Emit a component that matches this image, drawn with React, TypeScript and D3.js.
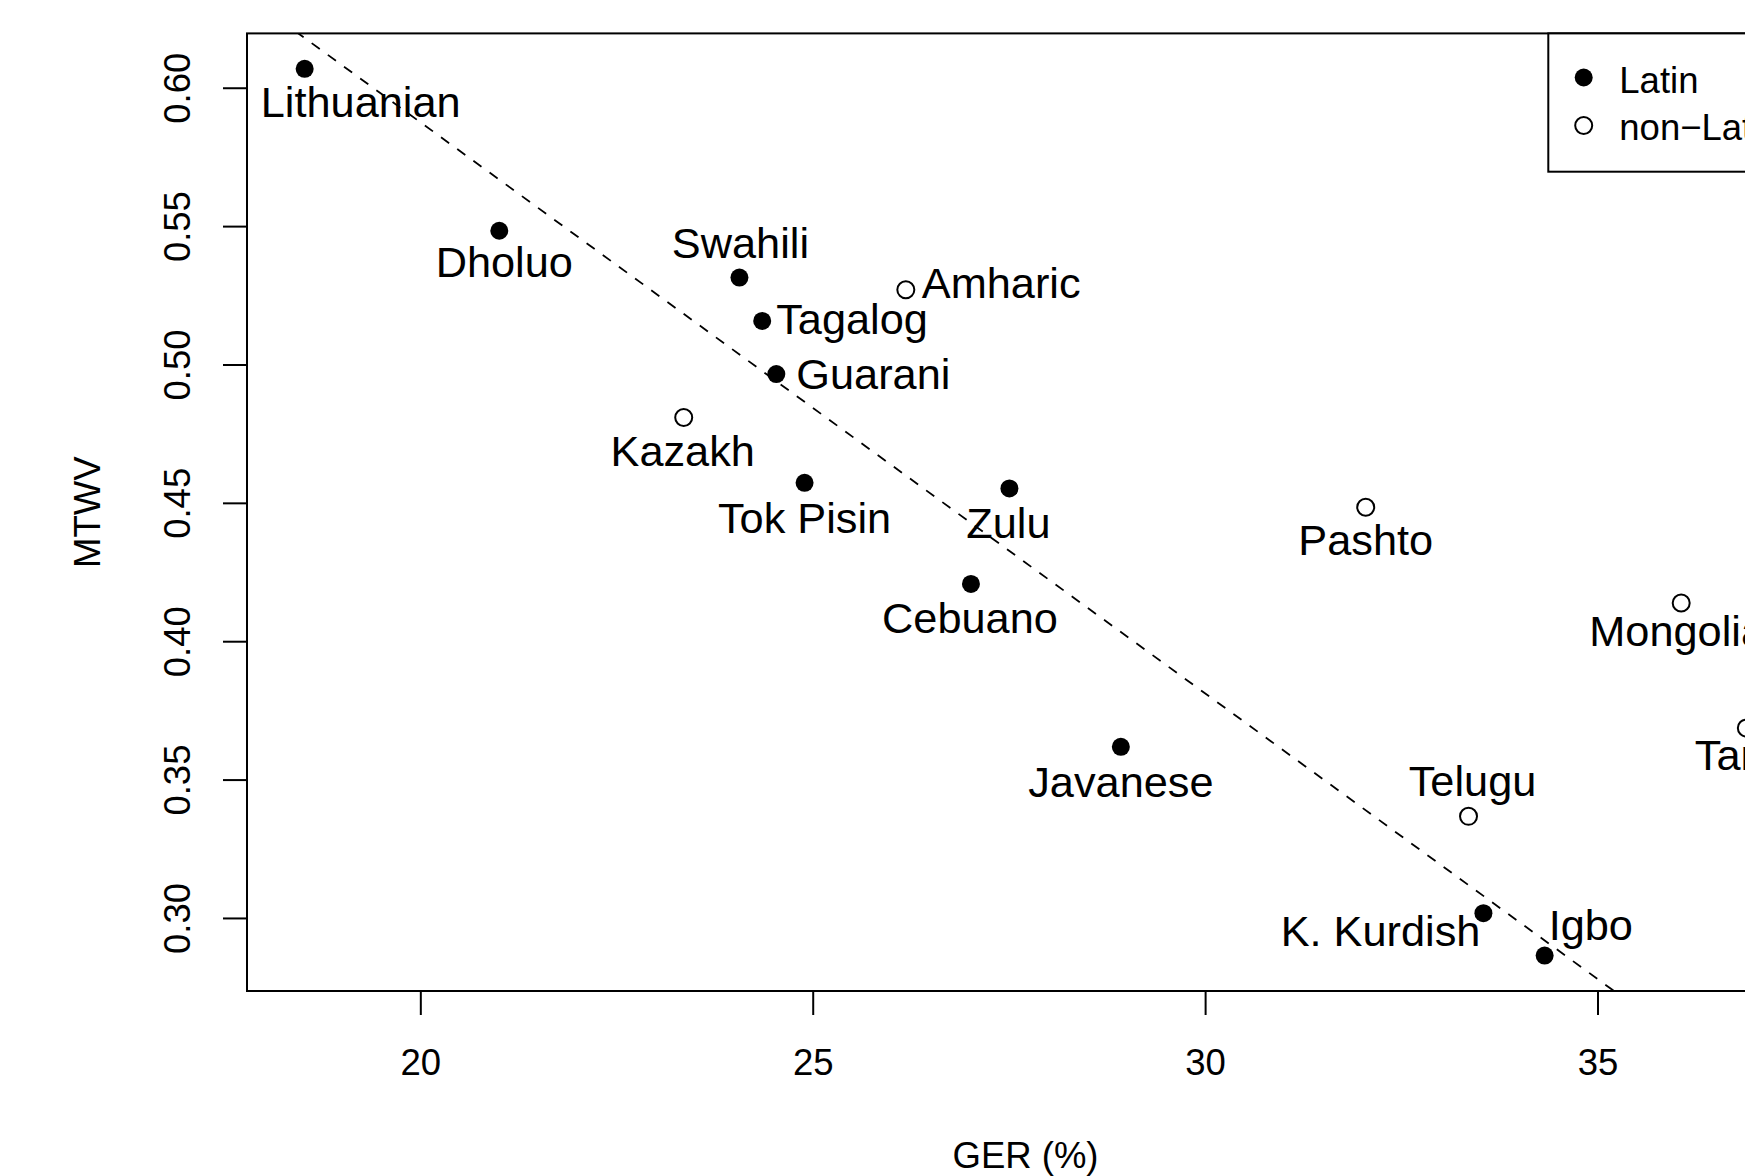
import React from "react";
import * as d3 from "d3";

// ---- data ----
const languages = [
  "Lithuanian", "Dholuo", "Swahili", "Amharic", "Tagalog", "Guarani", "Kazakh",
  "Tok Pisin", "Zulu", "Pashto", "Cebuano", "Mongolian", "Tamil", "Javanese",
  "Telugu", "K. Kurdish", "Igbo",
];
const ger = [
  18.52, 21.0, 24.06, 26.18, 24.35, 24.53, 23.35,
  24.89, 27.5, 32.04, 27.01, 36.06, 36.89, 28.92,
  33.35, 33.54, 34.32,
];
const mtwv = [
  0.607, 0.5485, 0.5316, 0.5272, 0.5159, 0.4967, 0.481,
  0.4574, 0.4554, 0.4486, 0.4209, 0.414, 0.3688, 0.362,
  0.3369, 0.3019, 0.2866,
];
const scripts = [
  "Latin", "Latin", "Latin", "non-Latin", "Latin", "Latin", "non-Latin",
  "Latin", "Latin", "non-Latin", "Latin", "non-Latin", "non-Latin", "Latin",
  "non-Latin", "Latin", "Latin",
];
const xTicks = [20, 25, 30, 35];
const yTicks = [0.3, 0.35, 0.4, 0.45, 0.5, 0.55, 0.6];
const fitIntercept = 1.0004;
const fitSlope = -0.02064;
const legendLabels = ["Latin", "non\u2212Latin"];
const xTitle = "GER (%)";
const yTitle = "MTWV";

// ---- label layout (anchor, dx, dy to baseline in px) ----
const labelAnchor = [
  "middle", "middle", "middle", "start", "start", "start", "middle",
  "middle", "middle", "middle", "middle", "middle", "middle", "middle",
  "middle", "end", "start",
];
const labelDx = [56, 5, 1, 16, 14, 20, -1, 0, -1, 0, -1, 8, -1, 0, 4, -3, 4];
const labelDy = [48, 46, -19.5, 8.5, 13.3, 15, 48, 50, 50, 48, 49, 43.5, 42, 50, -20, 33, -15.5];

const W = 1745;
const H = 1176;
const left = 247;
const right = 1804;
const top = 33.4;
const bottom = 991;
const FONT = "'Liberation Sans', Arial, Helvetica, sans-serif";
const AX = 36.5;
const LB = 43.3;

function pad(ext: [number, number]): [number, number] {
  const r = ext[1] - ext[0];
  return [ext[0] - 0.04 * r, ext[1] + 0.04 * r];
}

export default function App() {
  const x = d3.scaleLinear().domain(pad(d3.extent(ger) as [number, number])).range([left, right]);
  const y = d3.scaleLinear().domain(pad(d3.extent(mtwv) as [number, number])).range([bottom, top]);
  const [x0, x1] = x.domain();
  const fitLine = d3.line<number>()
    .x((d) => x(d))
    .y((d) => y(fitIntercept + fitSlope * d));

  return (
    <svg
      width={W}
      height={H}
      style={{ position: "absolute", left: 0, top: 0, background: "#fff" }}
      fontFamily={FONT}
    >
      <defs>
        <clipPath id="plotclip">
          <rect x={left} y={top} width={right - left} height={bottom - top} />
        </clipPath>
      </defs>
      <rect x={0} y={0} width={W} height={H} fill="#fff" />

      {/* regression line */}
      <path
        d={fitLine([x0, x1]) || ""}
        fill="none"
        stroke="#000"
        strokeWidth={1.8}
        strokeDasharray="10 10"
        clipPath="url(#plotclip)"
      />

      {/* points */}
      {languages.map((l, i) =>
        scripts[i] === "Latin" ? (
          <circle key={l} cx={x(ger[i])} cy={y(mtwv[i])} r={9} fill="#000" />
        ) : (
          <circle key={l} cx={x(ger[i])} cy={y(mtwv[i])} r={8.5} fill="none" stroke="#000" strokeWidth={2} />
        )
      )}

      {/* labels */}
      {languages.map((l, i) => (
        <text
          key={"t" + l}
          x={x(ger[i]) + labelDx[i]}
          y={y(mtwv[i]) + labelDy[i]}
          textAnchor={labelAnchor[i] as any}
          fontSize={LB}
          fill="#000"
        >
          {l}
        </text>
      ))}

      {/* plot box */}
      <rect x={left} y={top} width={right - left} height={bottom - top} fill="none" stroke="#000" strokeWidth={2} />

      {/* x axis */}
      <line x1={x(xTicks[0])} x2={x(xTicks[xTicks.length - 1])} y1={bottom} y2={bottom} stroke="#000" strokeWidth={2} />
      {xTicks.map((t) => (
        <g key={"xt" + t}>
          <line x1={x(t)} x2={x(t)} y1={bottom} y2={bottom + 24} stroke="#000" strokeWidth={2} />
          <text x={x(t)} y={1075} textAnchor="middle" fontSize={AX} fill="#000">
            {t}
          </text>
        </g>
      ))}

      {/* y axis */}
      {yTicks.map((t) => (
        <g key={"yt" + t}>
          <line x1={left - 24} x2={left} y1={y(t)} y2={y(t)} stroke="#000" strokeWidth={2} />
          <text
            transform={`translate(${190},${y(t)}) rotate(-90)`}
            textAnchor="middle"
            fontSize={AX}
            fill="#000"
          >
            {t.toFixed(2)}
          </text>
        </g>
      ))}

      {/* axis titles */}
      <text x={(left + right) / 2} y={1168} textAnchor="middle" fontSize={AX} fill="#000">
        {xTitle}
      </text>
      <text
        transform={`translate(${100},${(top + bottom) / 2}) rotate(-90)`}
        textAnchor="middle"
        fontSize={AX}
        fill="#000"
      >
        {yTitle}
      </text>

      {/* legend */}
      <rect x={1548.3} y={top} width={400} height={171.7 - top} fill="#fff" stroke="#000" strokeWidth={2} />
      <circle cx={1583.7} cy={77.5} r={9} fill="#000" />
      <circle cx={1583.7} cy={125.5} r={8.5} fill="none" stroke="#000" strokeWidth={2} />
      <text x={1619.3} y={92.7} fontSize={AX} fill="#000">{legendLabels[0]}</text>
      <text x={1619.3} y={139.5} fontSize={AX} fill="#000">{legendLabels[1]}</text>
    </svg>
  );
}
